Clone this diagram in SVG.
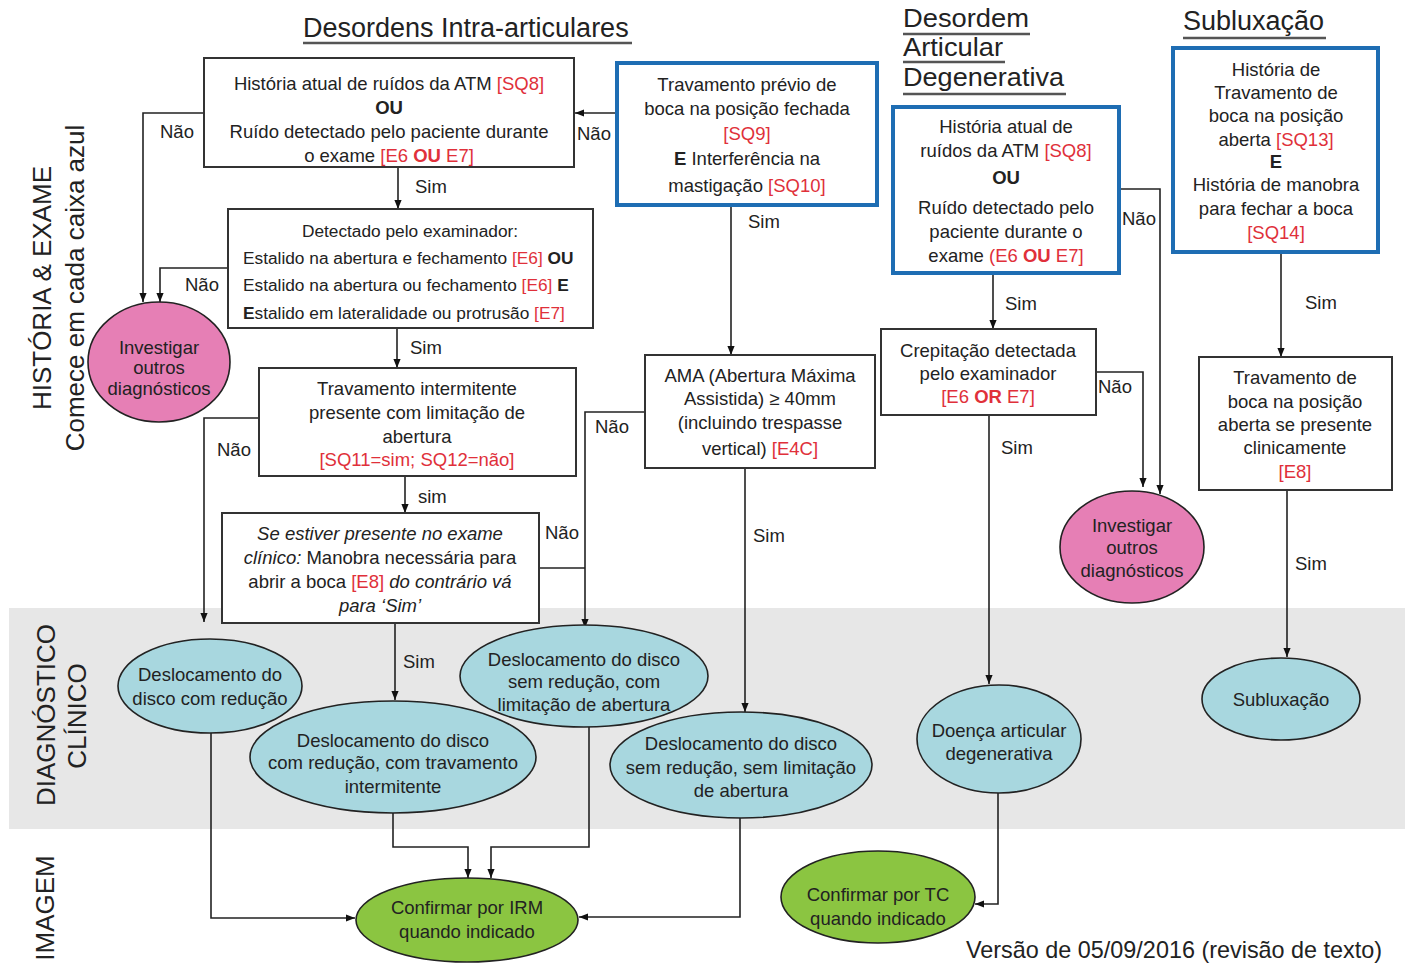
<svg xmlns="http://www.w3.org/2000/svg" width="1405" height="966" viewBox="0 0 1405 966">
<style>
text{font-family:"Liberation Sans",Arial,Helvetica,sans-serif;fill:#222}
.t{font-size:18.5px;text-anchor:middle}
.s{font-size:17.3px}
.lbl{font-size:18.5px}
.ttl{font-size:27px}
.ttl2{font-size:26px}
.side{font-size:26px;text-anchor:middle}
.r{fill:#e0303a}
.b{font-weight:bold}
.i{font-style:italic}
.box{fill:#fff;stroke:#333;stroke-width:2}
.bbox{fill:#fff;stroke:#1e6db3;stroke-width:4}
.pink{fill:#e67fb5;stroke:#222;stroke-width:1.6}
.blue{fill:#a8d7df;stroke:#222;stroke-width:1.6}
.green{fill:#8bc541;stroke:#222;stroke-width:1.6}
.con{fill:none;stroke:#222;stroke-width:1.6}
.ul{stroke:#555;stroke-width:2.5}
</style>
<defs>
<marker id="ah" viewBox="0 0 10 10" refX="10" refY="5" markerWidth="9" markerHeight="9" markerUnits="userSpaceOnUse" orient="auto"><path d="M0,1 L10,5 L0,9 z" fill="#111"/></marker>
</defs>
<rect x="0" y="0" width="1405" height="966" fill="#fff"/>
<rect id="band" x="9" y="608" width="1396" height="221" fill="#e7e7e7"/>

<g id="titles">
<text class="ttl" x="303" y="37">Desordens Intra-articulares</text>
<line class="ul" x1="303" y1="43" x2="632" y2="43"/>
<text class="ttl2" x="903" y="27" textLength="126" lengthAdjust="spacingAndGlyphs">Desordem</text>
<line class="ul" x1="903" y1="34" x2="1030" y2="34"/>
<text class="ttl2" x="903" y="56" textLength="100" lengthAdjust="spacingAndGlyphs">Articular</text>
<line class="ul" x1="903" y1="62" x2="1005" y2="62"/>
<text class="ttl2" x="903" y="86" textLength="161" lengthAdjust="spacingAndGlyphs">Degenerativa</text>
<line class="ul" x1="903" y1="94" x2="1066" y2="94"/>
<text class="ttl" x="1183" y="30">Subluxação</text>
<line class="ul" x1="1183" y1="38" x2="1326" y2="38"/>
<text class="side" transform="translate(51,288) rotate(-90)">HISTÓRIA &amp; EXAME</text>
<text class="side" transform="translate(84,288) rotate(-90)">Comece em cada caixa azul</text>
<text class="side" transform="translate(55,715) rotate(-90)">DIAGNÓSTICO</text>
<text class="side" transform="translate(86,716) rotate(-90)">CLÍNICO</text>
<text class="side" transform="translate(54,908) rotate(-90)">IMAGEM</text>
<text x="966" y="958" style="font-size:23.4px">Versão de 05/09/2016 (revisão de texto)</text>
</g>

<g id="connectors">
<polyline class="con" points="204,113 143,113 143,302" marker-end="url(#ah)"/>
<polyline class="con" points="228,268 160,268 160,302" marker-end="url(#ah)"/>
<line class="con" x1="398" y1="167" x2="398" y2="209" marker-end="url(#ah)"/>
<line class="con" x1="397" y1="328" x2="397" y2="368" marker-end="url(#ah)"/>
<polyline class="con" points="259,418 204,418 204,622" marker-end="url(#ah)"/>
<line class="con" x1="405" y1="476" x2="405" y2="513" marker-end="url(#ah)"/>
<line class="con" x1="395" y1="623" x2="395" y2="700" marker-end="url(#ah)"/>
<line class="con" x1="539" y1="568" x2="585" y2="568"/>
<polyline class="con" points="645,412 585,412 585,628" marker-end="url(#ah)"/>
<line class="con" x1="617" y1="113" x2="575" y2="113" marker-end="url(#ah)"/>
<line class="con" x1="731" y1="205" x2="731" y2="355" marker-end="url(#ah)"/>
<line class="con" x1="745" y1="468" x2="745" y2="712" marker-end="url(#ah)"/>
<polyline class="con" points="211,733 211,918 355,918" marker-end="url(#ah)"/>
<polyline class="con" points="393,813 393,847 468,847 468,878" marker-end="url(#ah)"/>
<polyline class="con" points="589,727 589,847 491,847 491,878" marker-end="url(#ah)"/>
<polyline class="con" points="740,818 740,917 579,917" marker-end="url(#ah)"/>
<line class="con" x1="993" y1="273" x2="993" y2="329" marker-end="url(#ah)"/>
<polyline class="con" points="1119,189 1160,189 1160,494" marker-end="url(#ah)"/>
<polyline class="con" points="1096,372 1143,372 1143,487" marker-end="url(#ah)"/>
<line class="con" x1="989" y1="415" x2="989" y2="684" marker-end="url(#ah)"/>
<polyline class="con" points="998,793 998,904 975,904" marker-end="url(#ah)"/>
<line class="con" x1="1281" y1="252" x2="1281" y2="357" marker-end="url(#ah)"/>
<line class="con" x1="1287" y1="490" x2="1287" y2="657" marker-end="url(#ah)"/>
<g id="labels">
<text class="lbl" x="160" y="138">Não</text>
<text class="lbl" x="577" y="140">Não</text>
<text class="lbl" x="415" y="193">Sim</text>
<text class="lbl" x="185" y="291">Não</text>
<text class="lbl" x="410" y="354">Sim</text>
<text class="lbl" x="217" y="456">Não</text>
<text class="lbl" x="418" y="503">sim</text>
<text class="lbl" x="545" y="539">Não</text>
<text class="lbl" x="595" y="433">Não</text>
<text class="lbl" x="748" y="228">Sim</text>
<text class="lbl" x="403" y="668">Sim</text>
<text class="lbl" x="753" y="542">Sim</text>
<text class="lbl" x="1122" y="225">Não</text>
<text class="lbl" x="1005" y="310">Sim</text>
<text class="lbl" x="1098" y="393">Não</text>
<text class="lbl" x="1001" y="454">Sim</text>
<text class="lbl" x="1305" y="309">Sim</text>
<text class="lbl" x="1295" y="570">Sim</text>
</g>
</g>

<g id="n-ruidos">
<rect class="box" x="204" y="58" width="370" height="109"/>
<text class="t" x="389" y="90">História atual de ruídos da ATM <tspan class="r">[SQ8]</tspan></text>
<text class="t b" x="389" y="114">OU</text>
<text class="t" x="389" y="138">Ruído detectado pelo paciente durante</text>
<text class="t" x="389" y="162">o exame <tspan class="r">[E6 <tspan class="b">OU</tspan> E7]</tspan></text>
</g>

<g id="n-detectado">
<rect class="box" x="228" y="209" width="365" height="119"/>
<text class="s" x="410" y="237" text-anchor="middle">Detectado pelo examinador:</text>
<text class="s" x="243" y="264">Estalido na abertura e fechamento <tspan class="r">[E6]</tspan> <tspan class="b">OU</tspan></text>
<text class="s" x="243" y="291">Estalido na abertura ou fechamento <tspan class="r">[E6]</tspan>  <tspan class="b">E</tspan></text>
<text class="s" x="243" y="319"><tspan class="b">E</tspan>stalido em lateralidade ou protrusão  <tspan class="r">[E7]</tspan></text>
</g>

<g id="n-travint">
<rect class="box" x="259" y="368" width="317" height="108"/>
<text class="t" x="417" y="395">Travamento intermitente</text>
<text class="t" x="417" y="419">presente com limitação de</text>
<text class="t" x="417" y="443">abertura</text>
<text class="t r" x="417" y="466">[SQ11=sim; SQ12=não]</text>
</g>

<g id="n-manobra">
<rect class="box" x="222" y="513" width="317" height="110"/>
<text class="t i" x="380" y="540">Se estiver presente no exame</text>
<text class="t" x="380" y="564"><tspan class="i">clínico:</tspan> Manobra necessária para</text>
<text class="t" x="380" y="588">abrir a boca <tspan class="r">[E8]</tspan> <tspan class="i">do contrário vá</tspan></text>
<text class="t i" x="380" y="612">para ‘Sim’</text>
</g>

<g id="n-travprevio">
<rect class="bbox" x="617" y="63" width="260" height="142"/>
<text class="t" x="747" y="91">Travamento prévio de</text>
<text class="t" x="747" y="115">boca na posição fechada</text>
<text class="t r" x="747" y="140">[SQ9]</text>
<text class="t" x="747" y="165"><tspan class="b">E</tspan> Interferência na</text>
<text class="t" x="747" y="192">mastigação <tspan class="r">[SQ10]</tspan></text>
</g>

<g id="n-ama">
<rect class="box" x="645" y="355" width="230" height="113"/>
<text class="t" x="760" y="382">AMA (Abertura Máxima</text>
<text class="t" x="760" y="405">Assistida) ≥ 40mm</text>
<text class="t" x="760" y="429">(incluindo trespasse</text>
<text class="t" x="760" y="455">vertical) <tspan class="r">[E4C]</tspan></text>
</g>

<g id="n-dad">
<rect class="bbox" x="893" y="107" width="226" height="166"/>
<text class="t" x="1006" y="133">História atual de</text>
<text class="t" x="1006" y="157">ruídos da ATM <tspan class="r">[SQ8]</tspan></text>
<text class="t b" x="1006" y="184">OU</text>
<text class="t" x="1006" y="214">Ruído detectado pelo</text>
<text class="t" x="1006" y="238">paciente durante o</text>
<text class="t" x="1006" y="262">exame <tspan class="r">(E6 <tspan class="b">OU</tspan> E7]</tspan></text>
</g>

<g id="n-crep">
<rect class="box" x="881" y="329" width="215" height="86"/>
<text class="t" x="988" y="357">Crepitação detectada</text>
<text class="t" x="988" y="380">pelo examinador</text>
<text class="t r" x="988" y="403">[E6 <tspan class="b">OR</tspan> E7]</text>
</g>

<g id="n-sublux-hist">
<rect class="bbox" x="1173" y="48" width="205" height="204"/>
<text class="t" x="1276" y="76">História de</text>
<text class="t" x="1276" y="99">Travamento de</text>
<text class="t" x="1276" y="122">boca na posição</text>
<text class="t" x="1276" y="146">aberta  <tspan class="r">[SQ13]</tspan></text>
<text class="t b" x="1276" y="168">E</text>
<text class="t" x="1276" y="191">História de manobra</text>
<text class="t" x="1276" y="215">para fechar a boca</text>
<text class="t r" x="1276" y="239">[SQ14]</text>
</g>

<g id="n-travaberta">
<rect class="box" x="1199" y="357" width="193" height="133"/>
<text class="t" x="1295" y="384">Travamento de</text>
<text class="t" x="1295" y="408">boca na posição</text>
<text class="t" x="1295" y="431">aberta se presente</text>
<text class="t" x="1295" y="454">clinicamente</text>
<text class="t r" x="1295" y="478">[E8]</text>
</g>

<g id="n-inv-left">
<ellipse class="pink" cx="159" cy="362" rx="71" ry="60"/>
<text class="t" x="159" y="354">Investigar</text>
<text class="t" x="159" y="374">outros</text>
<text class="t" x="159" y="395">diagnósticos</text>
</g>

<g id="n-inv-right">
<ellipse class="pink" cx="1132" cy="547" rx="72" ry="56"/>
<text class="t" x="1132" y="532">Investigar</text>
<text class="t" x="1132" y="554">outros</text>
<text class="t" x="1132" y="577">diagnósticos</text>
</g>

<g id="n-ddcr">
<ellipse class="blue" cx="210" cy="686" rx="92" ry="47"/>
<text class="t" x="210" y="681">Deslocamento do</text>
<text class="t" x="210" y="705">disco com redução</text>
</g>

<g id="n-ddcr-ti">
<ellipse class="blue" cx="393" cy="757" rx="143" ry="56"/>
<text class="t" x="393" y="747">Deslocamento do disco</text>
<text class="t" x="393" y="769">com redução, com travamento</text>
<text class="t" x="393" y="793">intermitente</text>
</g>

<g id="n-ddsr-cl">
<ellipse class="blue" cx="584" cy="676" rx="124" ry="51"/>
<text class="t" x="584" y="666">Deslocamento do disco</text>
<text class="t" x="584" y="688">sem redução, com</text>
<text class="t" x="584" y="711">limitação de abertura</text>
</g>

<g id="n-ddsr-sl">
<ellipse class="blue" cx="741" cy="765" rx="131" ry="53"/>
<text class="t" x="741" y="750">Deslocamento do disco</text>
<text class="t" x="741" y="774">sem redução, sem limitação</text>
<text class="t" x="741" y="797">de abertura</text>
</g>

<g id="n-dad-dx">
<ellipse class="blue" cx="999" cy="739" rx="82" ry="54"/>
<text class="t" x="999" y="737">Doença articular</text>
<text class="t" x="999" y="760">degenerativa</text>
</g>

<g id="n-sublux-dx">
<ellipse class="blue" cx="1281" cy="699" rx="79" ry="41"/>
<text class="t" x="1281" y="706">Subluxação</text>
</g>

<g id="n-irm">
<ellipse class="green" cx="467" cy="920" rx="111" ry="42"/>
<text class="t" x="467" y="914">Confirmar por IRM</text>
<text class="t" x="467" y="938">quando indicado</text>
</g>

<g id="n-tc">
<ellipse class="green" cx="878" cy="897" rx="97" ry="46"/>
<text class="t" x="878" y="901">Confirmar por TC</text>
<text class="t" x="878" y="925">quando indicado</text>
</g>
</svg>
